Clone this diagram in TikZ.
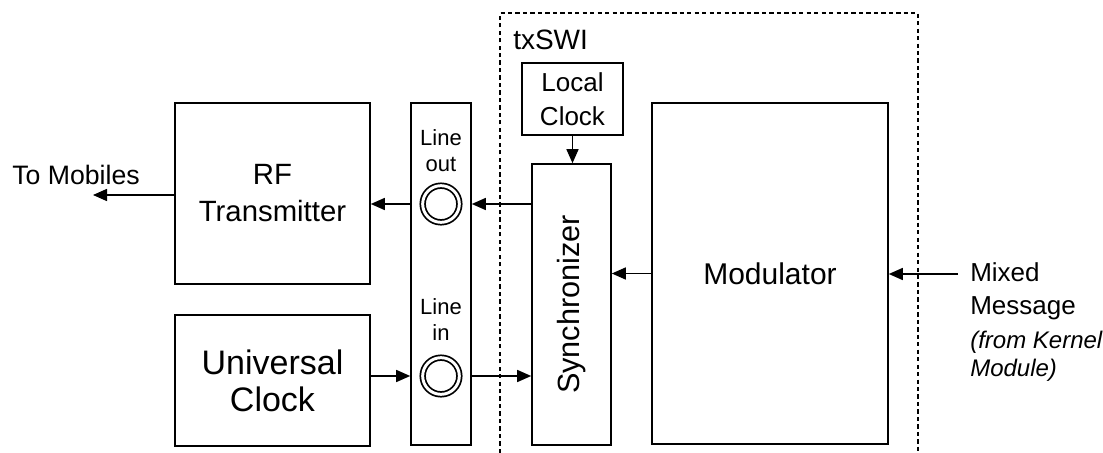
\documentclass[tikz,border=0pt]{standalone}
\usepackage{fontspec}
\setmainfont{Liberation Sans}
\usetikzlibrary{arrows.meta}

\tikzset{
  blk/.style={draw, line width=1.2pt, inner sep=0pt, align=center},
  arr/.style={line width=1.1pt, -{Triangle[length=10.5pt,width=9pt]}},
  jack/.style={circle, draw, line width=1.3pt, double distance=2.2pt, minimum size=27.5pt, inner sep=0pt},
  swibox/.style={line width=0.9pt, dash pattern={on 3.2pt off 2.4pt}}
}

\begin{document}
\begin{tikzpicture}[x=0.75pt,y=0.75pt,yscale=-1,xscale=1]
\useasboundingbox (0,0) rectangle (1103,453);

%Shape: Dashed Frame [txSWI]
\draw [swibox] (500,453) -- (500,13) -- (918,13) -- (918,453) ;
% Text Node
\node [anchor=west, inner sep=0pt, font=\fontsize{21}{25}\selectfont] (swilabel) at (513,40) {txSWI};

%Shape: Rectangle [RF Transmitter]
\node [blk, minimum width=146.25pt, minimum height=135.75pt, font=\fontsize{22}{27.75}\selectfont] (rf) at (272.5,193.5) {RF\\Transmitter};
%Shape: Rectangle [Universal Clock]
\node [blk, minimum width=146.25pt, minimum height=98.25pt, font=\fontsize{25.5}{27.75}\selectfont] (uc) at (272.5,380.5) {Universal\\Clock};
%Shape: Rectangle [Line strip]
\node [blk, minimum width=45pt, minimum height=256.5pt] (strip) at (441,274) {};
% Text Node
\node [align=center, inner sep=0pt, font=\fontsize{16.5}{19.5}\selectfont] (lineout) at (441,151) {Line\\out};
% Text Node
\node [align=center, inner sep=0pt, font=\fontsize{16.5}{19.5}\selectfont] (linein) at (441,320) {Line\\in};
%Shape: Jacks
\node [jack] (jackout) at (441,204) {};
\node [jack] (jackin) at (441,376) {};

%Shape: Rectangle [Local Clock]
\node [blk, minimum width=75.75pt, minimum height=54pt, font=\fontsize{19.5}{25.5}\selectfont] (local) at (572.5,99) {Local\\Clock};
%Shape: Rectangle [Synchronizer]
\node [blk, minimum width=59.25pt, minimum height=210.75pt] (sync) at (571.5,304.5) {};
\node [rotate=90, inner sep=0pt, font=\fontsize{23}{27}\selectfont] (synclabel) at (sync.center) {Synchronizer};
%Shape: Rectangle [Modulator]
\node [blk, minimum width=177pt, minimum height=255.75pt, font=\fontsize{22.5}{27}\selectfont] (mod) at (770,273.5) {Modulator};

% Text Node
\node [anchor=west, inner sep=0pt, font=\fontsize{20}{24}\selectfont] (mobiles) at (12,175) {To Mobiles};
% Text Node
\node [anchor=west, align=left, inner sep=0pt, font=\fontsize{19.5}{24.75}\selectfont] (mixed) at (970,291) {Mixed\\Message};
% Text Node
\node [anchor=north west, align=left, inner sep=0pt, font=\fontsize{18}{21}\itshape] (kernel) at (970,331) {(from Kernel\\Module)};

%Straight Lines [connectors]
\coordinate (mobout) at (93,195);
\coordinate (mixin) at (958,274);
\draw [arr] (rf.west |- mobout) -- (mobout) ;
\draw [arr] (strip.west |- jackout) -- (rf.east |- jackout) ;
\draw [arr] (sync.west |- jackout) -- (strip.east |- jackout) ;
\draw [arr] (uc.east |- jackin) -- (strip.west |- jackin) ;
\draw [arr] (strip.east |- jackin) -- (sync.west |- jackin) ;
\draw [arr] (local.south) -- (local.south |- sync.north) ;
\draw [arr] (mod.west) -- (sync.east |- mod.west) ;
\draw [arr] (mixin) -- (mod.east |- mixin) ;

\end{tikzpicture}
\end{document}
